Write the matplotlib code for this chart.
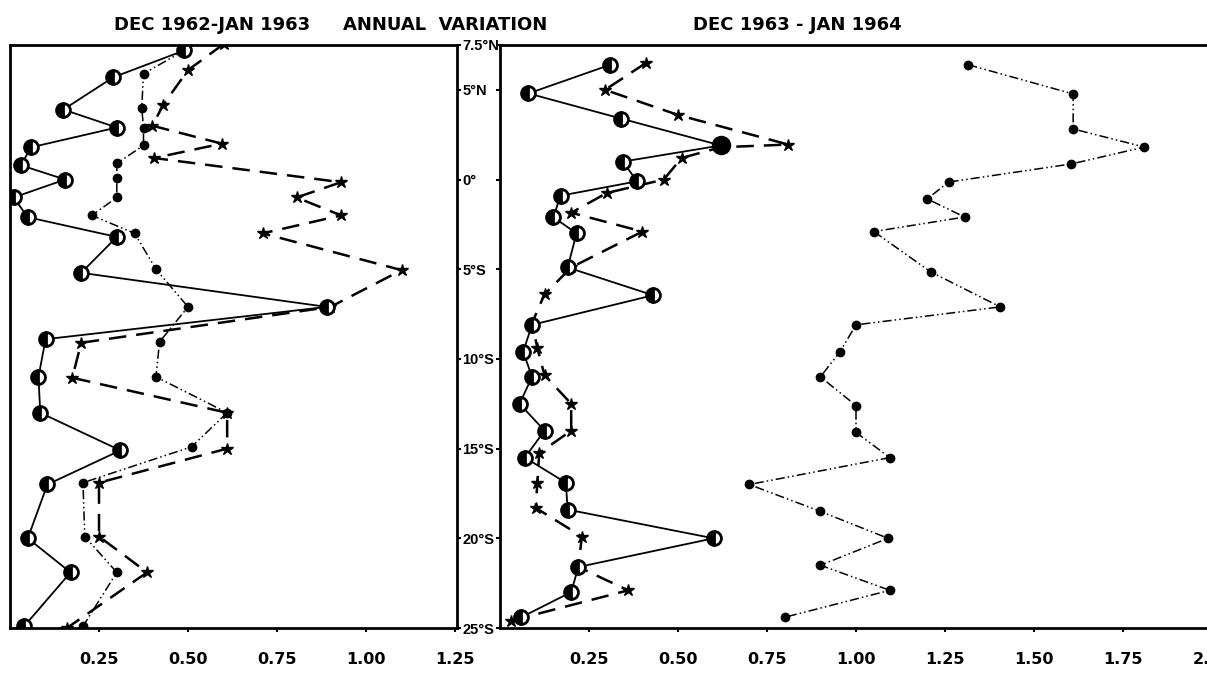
import numpy as np
import matplotlib
matplotlib.use("Agg")
import matplotlib.pyplot as plt

# latitude (deg, +N / -S) and annual variation, Dec 1962 - Jan 1963
lat_a1 = [7.2, 5.7, 3.9, 2.9, 1.8, 0.8, 0.0, -1.0, -2.1, -3.2, -5.2, -7.1, -8.9,
          -11.0, -13.0, -15.1, -17.0, -20.0, -21.9, -24.9]
val_a1 = [0.49, 0.29, 0.15, 0.30, 0.06, 0.03, 0.155, 0.01, 0.05, 0.30, 0.20, 0.89,
          0.10, 0.08, 0.085, 0.31, 0.105, 0.05, 0.17, 0.04]

lat_b1 = [7.2, 5.9, 4.0, 2.9, 1.9, 0.9, 0.1, -1.0, -2.0, -3.0, -5.0, -7.1, -9.05,
          -11.0, -13.0, -14.9, -16.9, -19.9, -21.9, -24.9]
val_b1 = [0.49, 0.375, 0.37, 0.375, 0.375, 0.30, 0.30, 0.30, 0.23, 0.35, 0.41, 0.50,
          0.42, 0.41, 0.61, 0.51, 0.205, 0.21, 0.30, 0.205]

lat_c1 = [7.55, 6.1, 4.15, 3.0, 2.0, 1.2, -0.15, -1.0, -2.0, -3.0, -5.05, -7.1, -9.1,
          -11.05, -13.0, -15.0, -16.9, -19.9, -21.9, -25.0]
val_c1 = [0.60, 0.50, 0.43, 0.40, 0.595, 0.405, 0.93, 0.805, 0.93, 0.71, 1.10, 0.90,
          0.20, 0.175, 0.61, 0.61, 0.25, 0.25, 0.385, 0.16]

# Dec 1963 - Jan 1964
lat_a2 = [6.4, 4.8, 3.4, 1.9, 1.0, -0.1, -0.9, -2.1, -3.0, -4.9, -6.45, -8.1, -9.6,
          -11.0, -12.5, -14.0, -15.5, -16.9, -18.4, -20.0, -21.6, -23.0, -24.4]
val_a2 = [0.31, 0.08, 0.34, 0.62, 0.345, 0.385, 0.17, 0.15, 0.215, 0.19, 0.43, 0.09,
          0.065, 0.09, 0.055, 0.125, 0.07, 0.185, 0.19, 0.60, 0.22, 0.20, 0.06]

lat_c2 = [6.5, 5.0, 3.6, 1.95, 1.8, 1.2, 0.0, -0.75, -1.85, -2.9, -4.9, -6.4, -8.0,
          -9.4, -10.9, -12.5, -14.0, -15.25, -16.9, -18.3, -19.9, -21.6, -22.9, -24.6]
val_c2 = [0.41, 0.295, 0.50, 0.81, 0.62, 0.51, 0.46, 0.30, 0.20, 0.40, 0.20, 0.125,
          0.09, 0.105, 0.125, 0.20, 0.20, 0.11, 0.105, 0.10, 0.23, 0.22, 0.36, 0.03]

lat_b2 = [6.4, 4.77, 2.82, 1.81, 0.87, -0.14, -1.08, -2.09, -2.9, -5.15, -7.1, -8.1,
          -9.6, -11.0, -12.6, -14.1, -15.5, -17.0, -18.5, -20.0, -21.5, -22.9, -24.4]
val_b2 = [1.315, 1.61, 1.61, 1.81, 1.605, 1.26, 1.20, 1.305, 1.05, 1.21, 1.405, 1.0,
          0.955, 0.90, 1.0, 1.0, 1.095, 0.70, 0.90, 1.09, 0.90, 1.095, 0.80]

lat_ticks = [7.5, 5, 0, -5, -10, -15, -20, -25]
lat_labels = ["7.5°N", "5°N", "0°", "5°S", "10°S", "15°S", "20°S", "25°S"]
x1_ticks = [0.25, 0.50, 0.75, 1.00, 1.25]
x2_ticks = [0.25, 0.50, 0.75, 1.00, 1.25, 1.50, 1.75, 2.00]

W, H = 1207, 673
fig = plt.figure(figsize=(W / 100, H / 100), dpi=100)

ax1 = fig.add_axes([10 / W, 1 - 628 / H, 447 / W, 583 / H])
ax2 = fig.add_axes([500 / W, 1 - 628 / H, 712 / W, 583 / H])

circ = dict(marker="o", ms=10, mec="black", mfc="black", mfcalt="white",
            fillstyle="left", mew=2)
ddot = dict(color="black", lw=1.1, ls=(0, (6, 2, 1, 2, 1, 2)),
            marker="o", ms=6, mfc="black", mec="black")
dash = dict(color="black", lw=1.8, ls=(0, (7, 4)),
            marker="*", ms=9, mfc="black", mec="black")

ax1.plot(val_b1, lat_b1, **ddot)
ax1.plot(val_c1, lat_c1, **dash)
ax1.plot(val_a1, lat_a1, color="black", lw=1.3, **circ)

ax2.plot(val_b2, lat_b2, **ddot)
ax2.plot(val_c2, lat_c2, **dash)
ax2.plot(val_a2, lat_a2, color="black", lw=1.3, **circ)
i = int(np.argmax(val_a2))
ax2.plot(val_a2[i], lat_a2[i], "o", ms=13, color="black")

for ax in (ax1, ax2):
    ax.set_ylim(-25, 7.5)
    for s in ax.spines.values():
        s.set_linewidth(2)
    ax.tick_params(axis="x", direction="out", length=3, width=1.5, pad=14)

ax1.set_xlim(0, 1.2556)
ax1.set_xticks(x1_ticks)
ax1.set_xticklabels([f"{v:.2f}" for v in x1_ticks], fontweight="bold", fontsize=11.5)
ax1.yaxis.tick_right()
ax1.set_yticks(lat_ticks)
ax1.set_yticklabels(lat_labels, fontweight="bold", fontsize=10.5,
                    family="Liberation Sans")
ax1.tick_params(axis="y", direction="out", length=3, width=1.5, pad=1)

ax2.set_xlim(0, 2.0)
ax2.set_xticks(x2_ticks)
ax2.set_xticklabels([f"{v:.2f}" for v in x2_ticks], fontweight="bold", fontsize=11.5)
ax2.spines["right"].set_visible(False)
ax2.set_yticks(lat_ticks)
ax2.set_yticklabels([])
ax2.tick_params(axis="y", direction="out", length=3, width=1.5)

fig.text(212 / W, 1 - 25 / H, "DEC 1962-JAN 1963", ha="center", va="center",
         fontsize=13, fontweight="bold")
fig.text(445 / W, 1 - 25 / H, "ANNUAL  VARIATION", ha="center", va="center",
         fontsize=13, fontweight="bold")
fig.text(797 / W, 1 - 25 / H, "DEC 1963 - JAN 1964", ha="center", va="center",
         fontsize=13, fontweight="bold")

fig.savefig("out.png", dpi=100)
